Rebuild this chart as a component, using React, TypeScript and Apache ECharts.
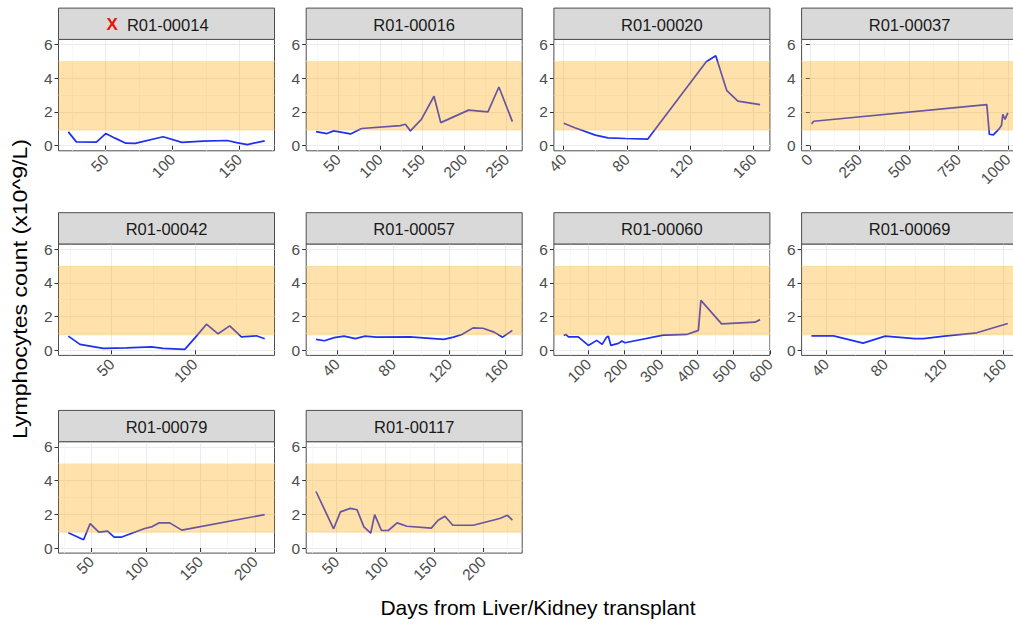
import React, { useEffect, useRef } from "react";
import * as echarts from "echarts";

// ---------- data ----------
const panelNames = [
  "R01-00014", "R01-00016", "R01-00020", "R01-00037", "R01-00042",
  "R01-00057", "R01-00060", "R01-00069", "R01-00079", "R01-00117",
];

const days00014 = [22, 28, 43, 50, 57, 65, 72, 93, 107, 123, 141, 148, 156, 169];
const lymph00014 = [0.82, 0.23, 0.21, 0.72, 0.45, 0.15, 0.14, 0.53, 0.2, 0.27, 0.31, 0.18, 0.07, 0.29];
const ticks00014 = [50, 100, 150];

const days00016 = [24, 37, 45, 65, 78, 124, 130, 136, 149, 164, 172, 205, 228, 241, 257];
const lymph00016 = [0.84, 0.72, 0.88, 0.7, 1.02, 1.19, 1.27, 0.88, 1.56, 2.93, 1.37, 2.11, 2.01, 3.48, 1.43];
const ticks00016 = [50, 100, 150, 200, 250];

const days00020 = [40, 47, 60, 68, 79, 93, 130, 136, 143, 150, 164];
const lymph00020 = [1.33, 1.07, 0.63, 0.47, 0.43, 0.39, 4.98, 5.33, 3.26, 2.64, 2.44];
const ticks00020 = [40, 80, 120, 160];

const days00037 = [8, 20, 894, 907, 927, 955, 968, 975, 986, 1000];
const lymph00037 = [1.3, 1.45, 2.44, 0.68, 0.64, 0.98, 1.2, 1.86, 1.56, 1.95];
const ticks00037 = [0, 250, 500, 750, 1000];

const days00042 = [24, 31, 45, 59, 74, 81, 94, 101, 107, 114, 121, 128, 137, 142];
const lymph00042 = [0.84, 0.35, 0.12, 0.14, 0.2, 0.12, 0.06, 0.84, 1.55, 0.98, 1.45, 0.8, 0.86, 0.69];
const ticks00042 = [50, 100];

const days00057 = [25, 31, 38, 45, 53, 60, 68, 92, 116, 123, 129, 137, 144, 152, 158, 165];
const lymph00057 = [0.65, 0.57, 0.75, 0.84, 0.69, 0.84, 0.78, 0.8, 0.65, 0.78, 0.94, 1.33, 1.31, 1.08, 0.78, 1.18];
const ticks00057 = [40, 80, 120, 160];

const days00060 = [32, 38, 45, 72, 100, 123, 138, 150, 155, 162, 183, 192, 201, 306, 371, 403, 410, 467, 559, 573];
const lymph00060 = [0.88, 0.94, 0.8, 0.8, 0.29, 0.59, 0.35, 0.78, 0.84, 0.29, 0.41, 0.55, 0.45, 0.9, 0.94, 1.18, 2.96, 1.57, 1.67, 1.82];
const ticks00060 = [100, 200, 300, 400, 500, 600];

const days00069 = [30, 45, 65, 80, 100, 106, 120, 142, 163];
const lymph00069 = [0.86, 0.86, 0.43, 0.84, 0.69, 0.69, 0.84, 1.04, 1.59];
const ticks00069 = [40, 80, 120, 160];

const days00079 = [29, 43, 49, 57, 65, 71, 78, 99, 106, 112, 122, 133, 209];
const lymph00079 = [0.9, 0.49, 1.45, 0.94, 1.0, 0.65, 0.65, 1.16, 1.27, 1.49, 1.49, 1.06, 1.98];
const ticks00079 = [50, 100, 150, 200];

const days00117 = [29, 47, 54, 64, 71, 78, 85, 89, 96, 103, 112, 122, 147, 154, 161, 169, 190, 217, 225, 230];
const lymph00117 = [3.35, 1.14, 2.14, 2.35, 2.27, 1.25, 0.88, 1.98, 1.04, 1.04, 1.49, 1.29, 1.18, 1.65, 1.88, 1.35, 1.35, 1.75, 1.94, 1.65];
const ticks00117 = [50, 100, 150, 200];

const panelDays = [days00014, days00016, days00020, days00037, days00042, days00057, days00060, days00069, days00079, days00117];
const panelLymph = [lymph00014, lymph00016, lymph00020, lymph00037, lymph00042, lymph00057, lymph00060, lymph00069, lymph00079, lymph00117];
const panelTicks = [ticks00014, ticks00016, ticks00020, ticks00037, ticks00042, ticks00057, ticks00060, ticks00069, ticks00079, ticks00117];

const yTicks = [0, 2, 4, 6];
const yMinorTicks = [1, 3, 5];
const yLimits = [-0.3, 6.3];
const normalRange = [0.9, 5.0];
const flaggedPanels = ["R01-00014"];

const xTitle = "Days from Liver/Kidney transplant";
const yTitle = "Lymphocytes count (x10^9/L)";

// ---------- layout ----------
const PANEL_W = 216;
const PANEL_H = 111.4;
const STRIP_H = 31.3;
const COL_LEFT = [58.5, 306.2, 553.9, 801.6];
const ROW_TOP = [39.4, 244, 441.7];
const FONT = "Liberation Sans";
const TICK_FONT = 15.5;
const STRIP_FONT = 16.5;
const TITLE_FONT = 21;

function minorBreaks(ticks: number[], lo: number, hi: number): number[] {
  const step = ticks.length > 1 ? ticks[1] - ticks[0] : 50;
  const out: number[] = [];
  for (let v = ticks[0] - step / 2; v <= hi + 1e-9; v += step) {
    if (v >= lo - 1e-9) out.push(v);
  }
  return out;
}

const plainNumber = (v: number) => String(Math.round(v * 1000) / 1000);

function buildOption() {
  const grids: any[] = [];
  const xAxes: any[] = [];
  const yAxes: any[] = [];
  const series: any[] = [];
  const graphics: any[] = [];

  panelNames.forEach((name, i) => {
    const col = i % 4;
    const row = Math.floor(i / 4);
    const left = COL_LEFT[col];
    const top = ROW_TOP[row];
    const days = panelDays[i];
    const vals = panelLymph[i];
    const dMin = Math.min(...days);
    const dMax = Math.max(...days);
    const pad = (dMax - dMin) * 0.05;
    const xMin = dMin - pad;
    const xMax = dMax + pad;
    const ticks = panelTicks[i].filter((t) => t >= xMin && t <= xMax);
    const minors = minorBreaks(panelTicks[i], xMin, xMax);

    grids.push({
      left,
      top,
      width: PANEL_W,
      height: PANEL_H,
      show: true,
      backgroundColor: "#ffffff",
      borderColor: "#4d4d4d",
      borderWidth: 1,
      containLabel: false,
      outerBoundsMode: "none",
      z: 0,
    });

    xAxes.push({
      gridIndex: i,
      type: "value",
      position: "bottom",
      min: xMin,
      max: xMax,
      axisLine: { show: false },
      axisTick: { show: true, length: 4, customValues: ticks, lineStyle: { color: "#333333", width: 1 } },
      axisLabel: {
        customValues: ticks,
        rotate: 45,
        margin: 6,
        fontSize: TICK_FONT,
        color: "#4d4d4d",
        fontFamily: FONT,
        formatter: plainNumber,
      },
      splitLine: { show: true, lineStyle: { color: "#ebebeb", width: 1.1 } },
      minorTick: { show: false },
      minorSplitLine: { show: false },
    });
    xAxes.push({
      gridIndex: i,
      type: "value",
      position: "top",
      min: xMin,
      max: xMax,
      axisLine: { show: false },
      axisTick: { show: false, customValues: minors },
      axisLabel: { show: false, customValues: minors },
      splitLine: { show: true, lineStyle: { color: "#f3f3f3", width: 0.7 } },
    });

    yAxes.push({
      gridIndex: i,
      type: "value",
      position: "left",
      min: yLimits[0],
      max: yLimits[1],
      axisLine: { show: false },
      axisTick: { show: true, length: 4, customValues: yTicks, lineStyle: { color: "#333333", width: 1 } },
      axisLabel: { customValues: yTicks, margin: 6, fontSize: TICK_FONT, color: "#4d4d4d", fontFamily: FONT, formatter: plainNumber },
      splitLine: { show: true, lineStyle: { color: "#ebebeb", width: 1.1 } },
    });
    yAxes.push({
      gridIndex: i,
      type: "value",
      position: "right",
      min: yLimits[0],
      max: yLimits[1],
      axisLine: { show: false },
      axisTick: { show: false, customValues: yMinorTicks },
      axisLabel: { show: false, customValues: yMinorTicks },
      splitLine: { show: true, lineStyle: { color: "#f3f3f3", width: 0.7 } },
    });

    series.push({
      type: "line",
      name: name,
      xAxisIndex: 2 * i,
      yAxisIndex: 2 * i,
      data: days.map((d, k) => [d, vals[k]]),
      showSymbol: false,
      symbol: "none",
      lineStyle: { color: "#1f2ff0", width: 1.7 },
      z: 2,
      silent: true,
    });

    series.push({
      type: "custom",
      xAxisIndex: 2 * i,
      yAxisIndex: 2 * i,
      z: 3,
      silent: true,
      clip: true,
      data: [[xMin, xMax, normalRange[0], normalRange[1]]],
      encode: { x: [0, 1], y: [2, 3] },
      renderItem: (params: any, api: any) => {
        const p1 = api.coord([api.value(0), api.value(3)]);
        const p2 = api.coord([api.value(1), api.value(2)]);
        return {
          type: "rect",
          shape: { x: p1[0], y: p1[1], width: p2[0] - p1[0], height: p2[1] - p1[1] },
          style: { fill: "rgba(255,165,0,0.33)" },
        };
      },
    });

    graphics.push({
      type: "rect",
      shape: { x: left, y: top - STRIP_H, width: PANEL_W, height: STRIP_H },
      style: { fill: "#d9d9d9", stroke: "#4d4d4d", lineWidth: 1 },
      z: 10,
    });
    const flagged = flaggedPanels.indexOf(name) >= 0;
    graphics.push({
      type: "text",
      x: flagged ? left + 99 : left + PANEL_W / 2,
      y: top - STRIP_H / 2 + 1,
      z: 11,
      style: {
        text: flagged ? "{x|X}  " + name : name,
        fill: "#1a1a1a",
        fontSize: STRIP_FONT,
        fontFamily: FONT,
        align: "center",
        verticalAlign: "middle",
        rich: {
          x: { fill: "#e8120c", fontWeight: "bold", fontSize: 17, fontFamily: FONT },
        },
      },
    });
  });

  graphics.push({
    type: "text",
    x: 538,
    y: 607,
    style: {
      text: xTitle,
      fill: "#000000",
      fontSize: TITLE_FONT,
      fontFamily: FONT,
      align: "center",
      verticalAlign: "middle",
    },
  });
  graphics.push({
    type: "text",
    x: 20,
    y: 289,
    rotation: Math.PI / 2,
    scaleX: 1.1,
    style: {
      text: yTitle,
      fill: "#000000",
      fontSize: TITLE_FONT,
      fontFamily: FONT,
      align: "center",
      verticalAlign: "middle",
    },
  });

  return {
    animation: false,
    backgroundColor: "#ffffff",
    textStyle: { fontFamily: FONT },
    grid: grids,
    xAxis: xAxes,
    yAxis: yAxes,
    series,
    graphic: graphics,
  };
}

export default function App() {
  const ref = useRef<HTMLDivElement>(null);
  useEffect(() => {
    if (!ref.current) return;
    const chart = echarts.init(ref.current, undefined, { renderer: "svg" });
    chart.setOption(buildOption() as any);
    return () => {
      chart.dispose();
    };
  }, []);
  return (
    <div
      ref={ref}
      style={{ position: "absolute", left: 0, top: 0, width: 1013, height: 624, background: "#fff" }}
    />
  );
}
